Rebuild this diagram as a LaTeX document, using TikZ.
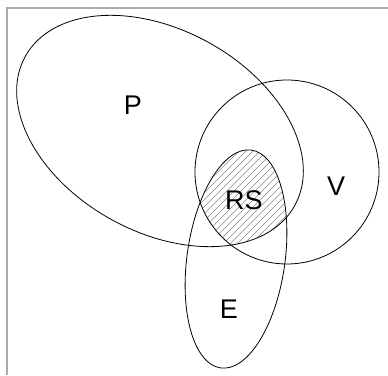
\documentclass[tikz,border=0pt]{standalone}
\usepackage{fontspec}
\setmainfont{Liberation Sans}
\usepackage{tikz}
\definecolor{FrameGray}{HTML}{ABABAB}
\definecolor{HatchGray}{HTML}{8A8A8A}
\newcommand{\labelfont}{\fontsize{27}{32}\selectfont}

\begin{document}
\begin{tikzpicture}[
  x=1pt, y=1pt,
  setline/.style={draw=black, line width=0.8pt},
  setlabel/.style={font=\labelfont, inner sep=0pt},
  frameline/.style={draw=FrameGray, line width=1.4pt},
  hatch/.style={draw=HatchGray, line width=0.45pt}
]
\useasboundingbox (0,0) rectangle (388,375);
% open frame, top and left only
\draw[frameline] (7,0) -- (7,367) -- (388,367);

% shaded part RS: inside all three sets
\begin{scope}
  \clip[rotate around={-29:(160,244)}] (160,244) ellipse [x radius=154, y radius=101];
  \clip (287,203) circle [radius=92];
  \clip[rotate around={-8:(236,116)}] (236,116) ellipse [x radius=49, y radius=110];
  \foreach \i in {-300,-293,...,400}
    \draw[hatch] (\i,0) -- ++(300,300);
\end{scope}

% the three sets
\draw[setline, rotate around={-29:(160,244)}] (160,244) ellipse [x radius=154, y radius=101];
\draw[setline] (287,203) circle [radius=92];
\draw[setline, rotate around={-8:(236,116)}] (236,116) ellipse [x radius=49, y radius=110];

\node (lblP) [setlabel] at (133,270) {P};
\node (lblV) [setlabel] at (336,189) {V};
\node (lblRS) [setlabel] at (244,175) {RS};
\node (lblE) [setlabel] at (229,66) {E};
\end{tikzpicture}
\end{document}
